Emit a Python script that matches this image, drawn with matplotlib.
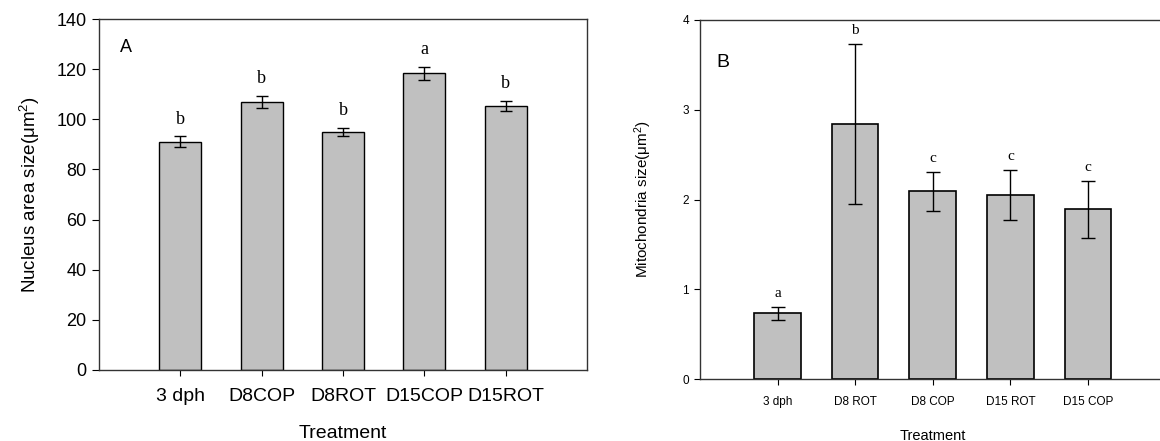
import matplotlib
matplotlib.use("Agg")
import matplotlib.pyplot as plt
import numpy as np

plt.rcParams['font.family'] = ['Liberation Sans', 'DejaVu Sans']
plt.rcParams['mathtext.default'] = 'regular'

# Panel A: nucleus area
nuc_labels = ["3 dph", "D8COP", "D8ROT", "D15COP", "D15ROT"]
nuc_mean = [91.0, 106.9, 95.0, 118.4, 105.3]
nuc_err = [2.2, 2.3, 1.7, 2.6, 2.0]
nuc_sig = ["b", "b", "b", "a", "b"]

# Panel B: mitochondria size
mit_labels = ["3 dph", "D8 ROT", "D8 COP", "D15 ROT", "D15 COP"]
mit_mean = [0.73, 2.84, 2.09, 2.05, 1.89]
mit_err = [0.07, 0.89, 0.215, 0.275, 0.317]
mit_sig = ["a", "b", "c", "c", "c"]

BAR_COLOR = "#c0c0c0"

fig = plt.figure(figsize=(11.6, 4.41), dpi=100)

# ---- Panel A ----
axA = fig.add_axes([99/1160, 1 - 370/441, (587 - 99)/1160, (370 - 19)/441])
x = np.arange(len(nuc_labels))
axA.bar(x, nuc_mean, width=0.52, color=BAR_COLOR, edgecolor="black", linewidth=1.0)
axA.errorbar(x, nuc_mean, yerr=nuc_err, fmt="none", ecolor="black",
             elinewidth=1.0, capsize=4.5, capthick=1.0)
for xi, m, e, s in zip(x, nuc_mean, nuc_err, nuc_sig):
    axA.text(xi, m + e + 3.5, s, ha="center", va="bottom",
             family="Liberation Serif", fontsize=13)
axA.set_xlim(-1, 5)
axA.set_ylim(0, 140)
axA.set_yticks(np.arange(0, 141, 20))
axA.set_xticks(x)
axA.set_xticklabels(nuc_labels, fontsize=14)
axA.tick_params(axis="y", labelsize=13, direction="out", length=5, pad=4)
axA.tick_params(axis="x", direction="out", length=4, pad=9)
axA.set_xlabel("Treatment", fontsize=14, labelpad=14)
axA.set_ylabel("Nucleus area size(μm$^2$)", fontsize=13.5, labelpad=10)
axA.text(0.043, 0.905, "A", transform=axA.transAxes, fontsize=13)
for sp in axA.spines.values():
    sp.set_linewidth(1.0)
    sp.set_color("#333333")

# ---- Panel B ----
axB = fig.add_axes([700/1160, 1 - 379/441, (1165.5 - 700)/1160, (379 - 20)/441])
x = np.arange(len(mit_labels))
axB.bar(x, mit_mean, width=0.6, color=BAR_COLOR, edgecolor="black", linewidth=1.2)
axB.errorbar(x, mit_mean, yerr=mit_err, fmt="none", ecolor="black",
             elinewidth=1.0, capsize=5, capthick=1.0)
for xi, m, e, s in zip(x, mit_mean, mit_err, mit_sig):
    axB.text(xi, m + e + 0.08, s, ha="center", va="bottom",
             family="Liberation Serif", fontsize=11)
axB.set_xlim(-1, 5)
axB.set_ylim(0, 4)
axB.set_yticks(np.arange(0, 5, 1))
axB.set_xticks(x)
axB.set_xticklabels(mit_labels, fontsize=8.5)
axB.tick_params(axis="y", labelsize=8.5, direction="out", length=4, pad=4)
axB.tick_params(axis="x", direction="out", length=4, pad=8)
axB.set_xlabel("Treatment", fontsize=10.5, labelpad=15)
axB.set_ylabel("Mitochondria size(μm$^2$)", fontsize=11, labelpad=20)
axB.text(0.035, 0.87, "B", transform=axB.transAxes, fontsize=14)
axB.spines["right"].set_visible(False)
for sp in axB.spines.values():
    sp.set_linewidth(1.0)
    sp.set_color("#333333")

fig.savefig("out.png", dpi=100)
